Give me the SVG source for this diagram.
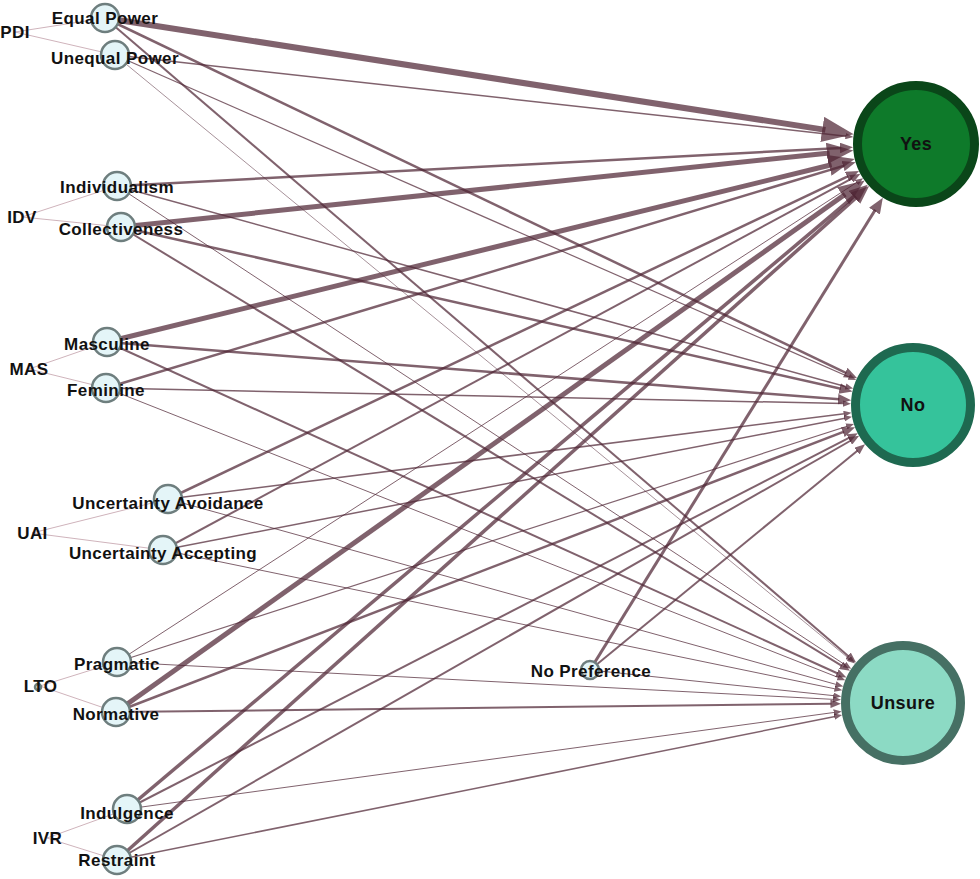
<svg xmlns="http://www.w3.org/2000/svg" width="980" height="879" viewBox="0 0 980 879">
<style>
.bg{fill:#ffffff}
.lbl{font-family:"Liberation Sans",Arial,sans-serif;font-weight:bold;font-size:17px;letter-spacing:0.4px;fill:#111111;text-anchor:middle}
.src{fill:#e4f5f8;stroke:#6e7e7e;stroke-width:2.5}
.grp{stroke:#c9aab3;stroke-width:0.9;fill:none}
.e{stroke:#4f2535;stroke-opacity:0.72;fill:none;stroke-linecap:butt}
.em{marker-end:url(#am)}
.es{marker-end:url(#as)}
</style>
<defs>
<marker id="am" viewBox="0 0 10 8" markerUnits="strokeWidth" markerWidth="5.3" markerHeight="4.24" refX="1" refY="4" orient="auto">
<path d="M0,0 L10,4 L0,8 z" fill="#4f2535" fill-opacity="0.72"/>
</marker>
<marker id="as" viewBox="0 0 10 8" markerUnits="userSpaceOnUse" markerWidth="8" markerHeight="6.4" refX="1" refY="4" orient="auto">
<path d="M0,0 L10,4 L0,8 z" fill="#4f2535" fill-opacity="0.72"/>
</marker>
</defs>
<rect class="bg" x="0" y="0" width="980" height="879"/>

<g id="group-links">
<line class="grp" x1="15" y1="32" x2="105" y2="18"/>
<line class="grp" x1="15" y1="32" x2="115" y2="55"/>
<line class="grp" x1="22" y1="217" x2="117" y2="186"/>
<line class="grp" x1="22" y1="217" x2="121" y2="227"/>
<line class="grp" x1="29" y1="369" x2="107" y2="342"/>
<line class="grp" x1="29" y1="369" x2="106" y2="388"/>
<line class="grp" x1="32" y1="533" x2="168" y2="499"/>
<line class="grp" x1="32" y1="533" x2="163" y2="550"/>
<line class="grp" x1="40" y1="686" x2="117" y2="662"/>
<line class="grp" x1="40" y1="686" x2="116" y2="712"/>
<line class="grp" x1="47" y1="838" x2="127" y2="809"/>
<line class="grp" x1="47" y1="838" x2="117" y2="860"/>
</g>

<g id="connectors">
<!-- Equal Power -->
<line class="e em" stroke-width="6" x1="105" y1="18" x2="825.4" y2="129.9"/>
<line class="e em" stroke-width="2.5" x1="105" y1="18" x2="846.4" y2="373.1"/>
<line class="e em" stroke-width="2" x1="105" y1="18" x2="848.8" y2="656.4"/>
<!-- Unequal Power -->
<line class="e em" stroke-width="1.5" x1="115" y1="55" x2="846.2" y2="136.2"/>
<line class="e es" stroke-width="1.2" x1="115" y1="55" x2="849.6" y2="377.2"/>
<line class="e es" stroke-width="0.7" x1="115" y1="55" x2="849.5" y2="659.0"/>
<!-- Individualism -->
<line class="e em" stroke-width="2.5" x1="117" y1="186" x2="841.2" y2="147.9"/>
<line class="e em" stroke-width="1.5" x1="117" y1="186" x2="846.3" y2="386.7"/>
<line class="e es" stroke-width="1" x1="117" y1="186" x2="845.2" y2="664.9"/>
<!-- Collectiveness -->
<line class="e em" stroke-width="5" x1="121" y1="227" x2="829.6" y2="153.0"/>
<line class="e em" stroke-width="2.5" x1="121" y1="227" x2="840.9" y2="388.8"/>
<line class="e em" stroke-width="2" x1="121" y1="227" x2="841.9" y2="665.8"/>
<!-- Masculine -->
<line class="e em" stroke-width="5" x1="107" y1="342" x2="831.6" y2="164.7"/>
<line class="e em" stroke-width="2.5" x1="107" y1="342" x2="839.3" y2="399.3"/>
<line class="e em" stroke-width="2" x1="107" y1="342" x2="837.8" y2="673.5"/>
<!-- Feminine -->
<line class="e em" stroke-width="2.5" x1="106" y1="388" x2="844.3" y2="165.6"/>
<line class="e em" stroke-width="1.5" x1="106" y1="388" x2="843.8" y2="403.6"/>
<line class="e es" stroke-width="1" x1="106" y1="388" x2="838.6" y2="677.6"/>
<!-- Uncertainty Avoidance -->
<line class="e em" stroke-width="2.5" x1="168" y1="499" x2="848.3" y2="176.1"/>
<line class="e em" stroke-width="1.5" x1="168" y1="499" x2="844.4" y2="413.7"/>
<line class="e es" stroke-width="1" x1="168" y1="499" x2="836.4" y2="684.5"/>
<!-- Uncertainty Accepting -->
<line class="e em" stroke-width="2" x1="163" y1="550" x2="852.1" y2="178.4"/>
<line class="e em" stroke-width="1.5" x1="163" y1="550" x2="845.0" y2="418.2"/>
<line class="e es" stroke-width="1" x1="163" y1="550" x2="835.3" y2="688.9"/>
<!-- Pragmatic -->
<line class="e es" stroke-width="1" x1="117" y1="662" x2="857.1" y2="182.2"/>
<line class="e es" stroke-width="1.2" x1="117" y1="662" x2="847.2" y2="426.2"/>
<line class="e es" stroke-width="1" x1="117" y1="662" x2="833.9" y2="699.4"/>
<!-- Normative -->
<line class="e em" stroke-width="5" x1="116" y1="712" x2="845.2" y2="194.3"/>
<line class="e em" stroke-width="2.5" x1="116" y1="712" x2="844.0" y2="431.6"/>
<line class="e em" stroke-width="2" x1="116" y1="712" x2="831.5" y2="703.8"/>
<!-- Indulgence -->
<line class="e em" stroke-width="3.5" x1="127" y1="809" x2="855.0" y2="195.4"/>
<line class="e em" stroke-width="2" x1="127" y1="809" x2="849.4" y2="437.7"/>
<line class="e es" stroke-width="1" x1="127" y1="809" x2="834.5" y2="712.4"/>
<!-- Restraint -->
<line class="e em" stroke-width="3.5" x1="117" y1="860" x2="856.7" y2="197.1"/>
<line class="e em" stroke-width="2" x1="117" y1="860" x2="850.9" y2="440.5"/>
<line class="e em" stroke-width="1.5" x1="117" y1="860" x2="835.1" y2="716.5"/>
<!-- No Preference -->
<line class="e em" stroke-width="3" x1="590" y1="670" x2="875.3" y2="209.8"/>
<line class="e em" stroke-width="2" x1="590" y1="670" x2="857.7" y2="450.4"/>
<line class="e es" stroke-width="1" x1="590" y1="670" x2="834.1" y2="695.7"/>
</g>

<g id="node-pdi"><text class="lbl" x="15" y="38">PDI</text></g>
<g id="node-idv"><text class="lbl" x="22" y="223">IDV</text></g>
<g id="node-mas"><text class="lbl" x="29" y="375">MAS</text></g>
<g id="node-uai"><text class="lbl" x="32.5" y="539">UAI</text></g>
<g id="node-lto"><circle class="src" cx="38" cy="687" r="3" stroke-width="1.2"/><text class="lbl" x="40.5" y="692">LTO</text></g>
<g id="node-ivr"><text class="lbl" x="47.5" y="844">IVR</text></g>

<g id="node-equal-power"><circle class="src" cx="105" cy="18" r="14"/><text class="lbl" x="105" y="24">Equal Power</text></g>
<g id="node-unequal-power"><circle class="src" cx="115" cy="55" r="14"/><text class="lbl" x="115" y="64">Unequal Power</text></g>
<g id="node-individualism"><circle class="src" cx="117" cy="186" r="14"/><text class="lbl" x="117" y="193">Individualism</text></g>
<g id="node-collectiveness"><circle class="src" cx="121" cy="227" r="14"/><text class="lbl" x="121" y="235">Collectiveness</text></g>
<g id="node-masculine"><circle class="src" cx="107" cy="342" r="14"/><text class="lbl" x="107" y="350">Masculine</text></g>
<g id="node-feminine"><circle class="src" cx="106" cy="388" r="14"/><text class="lbl" x="106" y="396">Feminine</text></g>
<g id="node-uncertainty-avoidance"><circle class="src" cx="168" cy="499" r="14"/><text class="lbl" x="168" y="509">Uncertainty Avoidance</text></g>
<g id="node-uncertainty-accepting"><circle class="src" cx="163" cy="550" r="14"/><text class="lbl" x="163" y="559">Uncertainty Accepting</text></g>
<g id="node-pragmatic"><circle class="src" cx="117" cy="662" r="14"/><text class="lbl" x="117" y="670">Pragmatic</text></g>
<g id="node-normative"><circle class="src" cx="116" cy="712" r="14"/><text class="lbl" x="116" y="720">Normative</text></g>
<g id="node-indulgence"><circle class="src" cx="127" cy="809" r="14"/><text class="lbl" x="127" y="819">Indulgence</text></g>
<g id="node-restraint"><circle class="src" cx="117" cy="860" r="14"/><text class="lbl" x="117" y="866">Restraint</text></g>
<g id="node-no-preference"><circle class="src" cx="590" cy="670" r="9" stroke-width="1.5"/><text class="lbl" x="591" y="677">No Preference</text></g>

<g id="node-yes"><circle cx="916" cy="144" r="58.5" fill="#0e7a2a" stroke="#0a4619" stroke-width="9"/><text class="lbl" x="916" y="150" style="font-size:18px">Yes</text></g>
<g id="node-no"><circle cx="913" cy="405" r="57.5" fill="#35c39b" stroke="#1e6950" stroke-width="9"/><text class="lbl" x="913" y="411" style="font-size:18px">No</text></g>
<g id="node-unsure"><circle cx="903" cy="703" r="57.5" fill="#8cdac4" stroke="#467064" stroke-width="9"/><text class="lbl" x="903" y="709" style="font-size:18px">Unsure</text></g>
</svg>
